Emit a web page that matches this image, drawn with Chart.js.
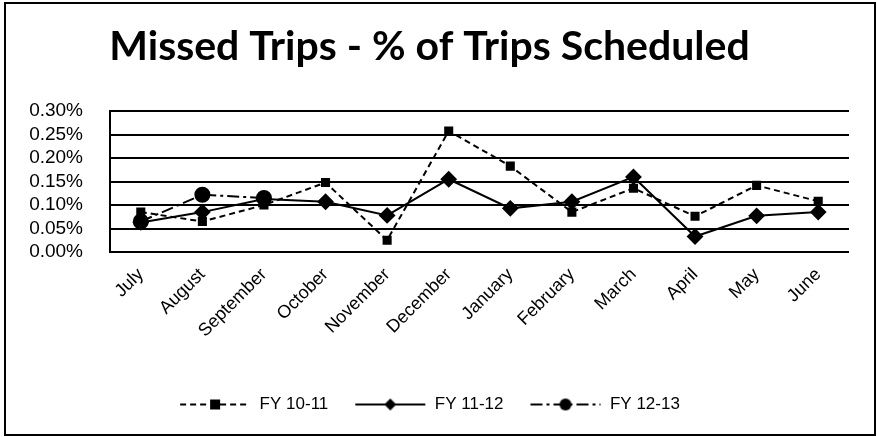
<!DOCTYPE html>
<html>
<head>
<meta charset="utf-8">
<script src="https://cdn.jsdelivr.net/npm/chart.js@4"></script>
<style>
  html, body { margin: 0; padding: 0; background: #fff; }
  #wrap { width: 877px; height: 437px; }
</style>
</head>
<body>
<div id="wrap"><canvas id="mychart" width="877" height="437"></canvas></div>
<script>
// month categories, fiscal year runs July to June
const months = ['July','August','September','October','November','December',
  'January','February','March','April','May','June'];

// missed trips as % of scheduled trips
const fy1011 = [0.085, 0.065, 0.100, 0.148, 0.025, 0.258, 0.183, 0.085, 0.136, 0.076, 0.142, 0.108];
const fy1112 = [0.063, 0.085, 0.113, 0.107, 0.078, 0.155, 0.093, 0.107, 0.160, 0.033, 0.077, 0.085];
const fy1213 = [0.065, 0.122, 0.115];

const yTicks = [0, 0.05, 0.10, 0.15, 0.20, 0.25, 0.30];

// little legend swatch: line with marker in the middle
function swatch(dash, marker){
  let c = document.createElement('canvas');
  c.width = 72; c.height = 14;
  let ctx = c.getContext('2d');
  let m = c.width / 2;
  ctx.strokeStyle = '#000';
  ctx.fillStyle = '#000';
  ctx.lineWidth = 2;
  ctx.setLineDash(dash);
  ctx.beginPath();
  ctx.moveTo(1, 7); ctx.lineTo(c.width - 1, 7);
  ctx.stroke();
  ctx.setLineDash([]);
  ctx.beginPath();
  if (marker === 'rect') ctx.rect(m - 5, 2, 10, 10);
  else if (marker === 'rectRot') { ctx.moveTo(m, 1); ctx.lineTo(m + 6, 7); ctx.lineTo(m, 13); ctx.lineTo(m - 6, 7); ctx.closePath(); }
  else ctx.arc(m, 7, 6, 0, Math.PI * 2);
  ctx.fill();
  return c;
}

const frame = {
  id: 'frame',
  afterDraw(chart){
    let ctx = chart.ctx;
    ctx.save();
    ctx.strokeStyle = '#000';
    ctx.lineWidth = 2;
    ctx.strokeRect(5, 3, 870, 432);
    ctx.restore();
  }
};

const styles = [
  {dash: [6, 4], pt: 'rect', r: 5},
  {dash: [], pt: 'rectRot', r: 7},
  {dash: [12, 4, 3, 4], pt: 'circle', r: 7}
];

let canvas = document.getElementById('mychart');
const config = {
  type: 'line',
  data: {
    labels: months,
    datasets: [
      {label: 'FY 10-11', data: fy1011},
      {label: 'FY 11-12', data: fy1112},
      {label: 'FY 12-13', data: fy1213}
    ].map((d, i) => Object.assign(d, {
      borderColor: '#000',
      backgroundColor: '#000',
      borderWidth: 2,
      borderDash: styles[i].dash,
      pointStyle: styles[i].pt,
      pointRadius: styles[i].r,
      pointHoverRadius: styles[i].r,
      tension: 0,
      fill: false
    }))
  },
  options: {
    responsive: false,
    animation: false,
    layout: { padding: { left: 10, right: 28, top: 8, bottom: 14 } },
    plugins: {
      title: {
        display: true,
        text: 'Missed Trips - % of Trips Scheduled',
        color: '#000',
        font: { family: 'Lato', size: 41, weight: 'bold' },
        padding: { top: 14, bottom: 40 }
      },
      legend: {
        position: 'bottom',
        labels: {
          color: '#000',
          font: { family: 'Liberation Sans', size: 17 },
          usePointStyle: true,
          pointStyleWidth: 72,
          boxHeight: 14,
          padding: 26,
          generateLabels(chart){
            return chart.data.datasets.map((ds, i) => ({
              text: ds.label,
              pointStyle: swatch(styles[i].dash, styles[i].pt),
              fillStyle: '#000',
              strokeStyle: '#000',
              lineWidth: 0,
              fontColor: '#000',
              datasetIndex: i
            }));
          }
        }
      },
      tooltip: { enabled: false }
    },
    scales: {
      x: {
        offset: true,
        grid: { display: false },
        border: { display: false },
        afterFit(axis){ axis.height = 118; },
        ticks: {
          color: '#000',
          font: { family: 'Liberation Sans', size: 18 },
          maxRotation: 45,
          minRotation: 45,
          autoSkip: false,
          padding: 4
        }
      },
      y: {
        min: 0,
        max: 0.30,
        afterBuildTicks(axis){ axis.ticks = yTicks.map(v => ({value: v})); },
        afterFit(axis){ axis.width = 100; },
        grid: { color: '#000', lineWidth: 2, drawTicks: false },
        border: { display: true, color: '#000', width: 2 },
        ticks: {
          color: '#000',
          font: { family: 'Liberation Sans', size: 19 },
          autoSkip: false,
          padding: 27,
          callback: v => v.toFixed(2) + '%'
        }
      }
    }
  },
  plugins: [frame]
};
new Chart(canvas, config);
</script>
</body>
</html>
